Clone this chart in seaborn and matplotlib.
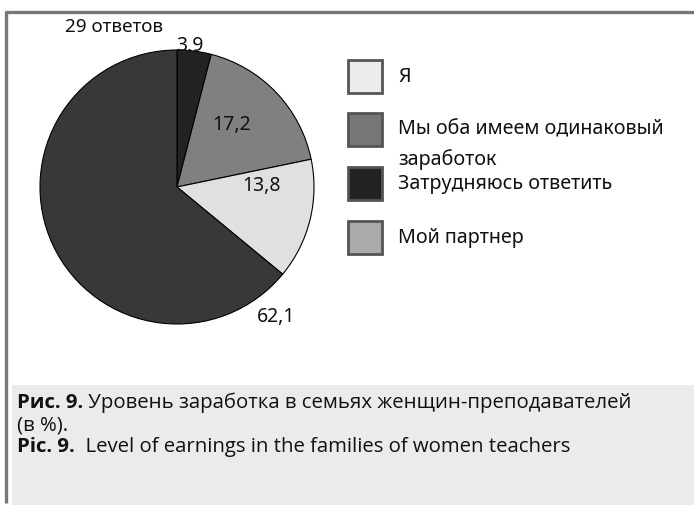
import math
import matplotlib
matplotlib.use("Agg")
import matplotlib.pyplot as plt
from matplotlib.patches import Rectangle
import seaborn as sns

# ---- data ----
slice_labels = ["Затрудняюсь ответить", "Мы оба имеем одинаковый заработок", "Я", "Мой партнер"]
slice_values = [3.9, 17.2, 13.8, 62.1]
value_texts = ["3,9", "17,2", "13,8", "62,1"]
legend_labels = ["Я", "Мы оба имеем одинаковый\nзаработок", "Затрудняюсь ответить", "Мой партнер"]
responses_text = "29 ответов"
caption_ru_bold = "Рис. 9."
caption_ru_line1 = " Уровень заработка в семьях женщин-преподавателей"
caption_ru_line2 = "(в %)."
caption_en_bold = "Pic. 9."
caption_en = "  Level of earnings in the families of women teachers"

# ---- styles ----
slice_colors = ["#222222", "#808080", "#e0e0e0", "#383838"]
legend_colors = ["#ebebeb", "#777777", "#222222", "#aaaaaa"]
TXT = "#111111"

sns.set_theme(style="white")
plt.rcParams["font.family"] = ["Noto Sans", "DejaVu Sans"]
CAP_FONT = ["Open Sans", "DejaVu Sans"]

W, H = 694, 505
fig = plt.figure(figsize=(W / 100, H / 100), dpi=100)

# background / layout axes in pixel coordinates
bg = fig.add_axes([0, 0, 1, 1])
bg.set_xlim(0, W)
bg.set_ylim(H, 0)
bg.axis("off")
bg.add_patch(Rectangle((12, 385), W - 12, H - 385, facecolor="#ebebeb", edgecolor="none", zorder=0))
bg.plot([6.5, 6.5, W], [503, 11.5, 11.5], color="#777777", lw=2.4, solid_capstyle="butt", zorder=1)

# legend (manual)
box_tops = [60, 113, 167, 221]
for lab, col, top in zip(legend_labels, legend_colors, box_tops):
    bg.add_patch(Rectangle((348, top), 34, 33, facecolor=col, edgecolor="#555555", lw=2, zorder=2))
    nlines = lab.count("\n") + 1
    ycen = top + 17 + (nlines - 1) * 15
    bg.text(398, ycen, lab, fontsize=14.2, va="center", ha="left", color=TXT,
            linespacing=1.6, zorder=2)

bg.text(65, 27, responses_text, fontsize=13.6, va="center", ha="left", color=TXT)

# caption
inv = bg.transData.inverted()
CS = 14.7
t1 = bg.text(17, 403, caption_ru_bold, fontsize=CS, fontweight="bold", va="center", ha="left",
             color=TXT, family=CAP_FONT)
t3 = bg.text(17, 447, caption_en_bold, fontsize=CS, fontweight="bold", va="center", ha="left",
             color=TXT, family=CAP_FONT)
fig.canvas.draw()
r = fig.canvas.get_renderer()
x1 = inv.transform((t1.get_window_extent(r).x1, 0))[0]
x3 = inv.transform((t3.get_window_extent(r).x1, 0))[0]
bg.text(x1, 403, caption_ru_line1, fontsize=CS, va="center", ha="left", color=TXT, family=CAP_FONT)
bg.text(17, 425, caption_ru_line2, fontsize=CS, va="center", ha="left", color=TXT, family=CAP_FONT)
bg.text(x3, 447, caption_en, fontsize=CS, va="center", ha="left", color=TXT, family=CAP_FONT)

# pie
cx, cy, rad = 177, 187, 137
ax = fig.add_axes([(cx - rad) / W, (H - cy - rad) / H, 2 * rad / W, 2 * rad / H])
wedges, _ = ax.pie(slice_values, colors=slice_colors, startangle=90, counterclock=False,
                   radius=1, wedgeprops=dict(edgecolor="black", linewidth=0.8))
ax.set_xlim(-1, 1)
ax.set_ylim(-1, 1)
ax.axis("off")
for w in wedges:
    w.set_zorder(3)

# value label layout: (x, y) offsets in radius units relative to centre, and zorder
label_pos = [(0.095, 1.03, 1), (0.40, 0.45, 5), (0.62, 0.01, 5), (0.72, -0.95, 5)]
for txt, (lx, ly, z) in zip(value_texts, label_pos):
    ax.text(lx, ly, txt, fontsize=14, ha="center", va="center", color=TXT, zorder=z, clip_on=False)

fig.savefig("out.png", dpi=100)
